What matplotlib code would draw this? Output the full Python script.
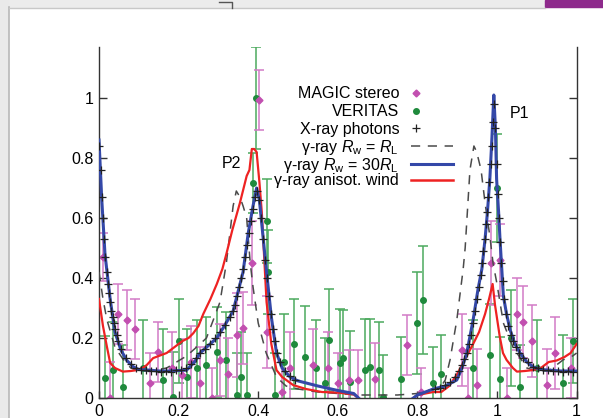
import numpy as np
import matplotlib
matplotlib.use("Agg")
import matplotlib.pyplot as plt
from matplotlib.lines import Line2D
from matplotlib.patches import Rectangle

plt.rcParams['font.family'] = ['Liberation Sans', 'DejaVu Sans']
plt.rcParams['mathtext.fontset'] = 'custom'
plt.rcParams['mathtext.rm'] = 'Liberation Sans'
plt.rcParams['mathtext.it'] = 'Liberation Sans:italic'
plt.rcParams['font.size'] = 11.5

# gamma-ray model, R_w = 30 R_L (blue)
blue_phase = [0, 0.007, 0.015, 0.028, 0.04, 0.055, 0.07, 0.086, 0.1, 0.127, 0.15, 0.18,
              0.22, 0.24, 0.254, 0.275, 0.296, 0.315, 0.337, 0.362, 0.375, 0.387, 0.396,
              0.403, 0.409, 0.415, 0.421, 0.433, 0.446, 0.46, 0.48, 0.5, 0.55, 0.6, 0.64,
              0.66, 0.78, 0.8, 0.84, 0.87, 0.899, 0.912, 0.924, 0.94, 0.952, 0.962, 0.97,
              0.976, 0.982, 0.987, 0.992, 0.996, 0.999, 1.004, 1.0075, 1.012, 1.016, 1.024,
              1.033, 1.045, 1.058, 1.075, 1.09, 1.11, 1.13, 1.16, 1.19, 1.2]
blue_rate = [0.86, 0.66, 0.48, 0.33, 0.22, 0.16, 0.125, 0.104, 0.095, 0.093, 0.09, 0.09,
             0.093, 0.12, 0.15, 0.175, 0.2, 0.24, 0.29, 0.42, 0.55, 0.64, 0.70,
             0.66, 0.58, 0.5, 0.42, 0.27, 0.15, 0.1, 0.07, 0.057, 0.04, 0.025, 0.015,
             -0.01, -0.01, 0.01, 0.03, 0.04, 0.06, 0.1, 0.15, 0.26, 0.36, 0.43, 0.53,
             0.62, 0.73, 0.86, 1.01, 0.9, 0.73, 0.62, 0.53, 0.43, 0.34, 0.28,
             0.227, 0.18, 0.15, 0.12, 0.104, 0.095, 0.093, 0.09, 0.09, 0.09]

# gamma-ray model, anisotropic wind (red)
red_phase = [0, 0.01, 0.02, 0.028, 0.04, 0.06, 0.08, 0.095, 0.11, 0.12, 0.136, 0.15, 0.17,
             0.19, 0.21, 0.225, 0.237, 0.25, 0.262, 0.28, 0.296, 0.31, 0.32, 0.335, 0.354,
             0.371, 0.378, 0.384, 0.39, 0.396, 0.403, 0.409, 0.417, 0.421, 0.433, 0.446,
             0.46, 0.488, 0.52, 0.56, 0.6, 0.64, 0.66, 0.78, 0.8, 0.82, 0.84, 0.86, 0.88,
             0.9, 0.92, 0.94, 0.955, 0.97, 0.98, 0.989, 0.995, 1.007, 1.015, 1.024, 1.04,
             1.05, 1.07, 1.09, 1.11, 1.13, 1.15, 1.17, 1.185, 1.2]
red_rate = [0.33, 0.24, 0.17, 0.117, 0.1, 0.088, 0.09, 0.093, 0.1, 0.11, 0.133, 0.14, 0.15,
            0.17, 0.19, 0.2, 0.216, 0.24, 0.28, 0.33, 0.38, 0.43, 0.48, 0.56, 0.65,
            0.74, 0.76, 0.83, 0.83, 0.82, 0.72, 0.62, 0.42, 0.32, 0.18, 0.093,
            0.07, 0.043, 0.03, 0.02, 0.018, 0.012, -0.01, -0.01, 0.01, 0.015, 0.02, 0.02, 0.04,
            0.08, 0.13, 0.18, 0.22, 0.28, 0.33, 0.38, 0.31, 0.204, 0.15, 0.127, 0.1,
            0.088, 0.09, 0.093, 0.1, 0.12, 0.125, 0.137, 0.15, 0.18]

# gamma-ray model, R_w = R_L (dashed)
dash_phase = [0, 0.01, 0.02, 0.04, 0.06, 0.08, 0.1, 0.13, 0.17, 0.22, 0.254, 0.27, 0.29,
              0.304, 0.32, 0.337, 0.345, 0.354, 0.362, 0.371, 0.38, 0.387, 0.4, 0.42, 0.446,
              0.47, 0.5, 0.55, 0.6, 0.65, 0.7, 0.75, 0.8, 0.84, 0.86, 0.87, 0.882, 0.899,
              0.915, 0.92, 0.932, 0.942, 0.949, 0.96, 0.97, 0.982, 0.99, 1.0, 1.016, 1.04,
              1.075, 1.1, 1.13, 1.166, 1.19, 1.2]
dash_rate = [0.42, 0.33, 0.26, 0.17, 0.13, 0.1, 0.09, 0.09, 0.1, 0.14, 0.18, 0.2, 0.27,
             0.32, 0.45, 0.64, 0.69, 0.67, 0.64, 0.6, 0.45, 0.37, 0.25, 0.15, 0.07,
             0.04, 0.03, 0.02, 0.015, 0.01, 0.01, 0.01, 0.015, 0.03, 0.04, 0.06, 0.127, 0.26,
             0.43, 0.5, 0.76, 0.84, 0.82, 0.76, 0.65, 0.54, 0.45, 0.38, 0.25, 0.17,
             0.1, 0.09, 0.09, 0.127, 0.14, 0.15]

# X-ray photons
xray_phase = [0.001, 0.004, 0.007, 0.010, 0.013, 0.016, 0.019, 0.022, 0.025, 0.028, 0.031,
              0.034, 0.037, 0.040, 0.044, 0.048, 0.055, 0.0675, 0.08, 0.0925, 0.105, 0.1175,
              0.13, 0.1425, 0.155, 0.1675, 0.18, 0.1925, 0.205, 0.2175, 0.23, 0.2425, 0.255,
              0.2675, 0.28, 0.2925, 0.305, 0.3175, 0.33, 0.337, 0.342, 0.347, 0.352, 0.357,
              0.362, 0.367, 0.372, 0.377, 0.382, 0.387, 0.392, 0.397, 0.402, 0.407, 0.412,
              0.417, 0.422, 0.427, 0.432, 0.437, 0.442, 0.447, 0.455, 0.4675, 0.48, 0.4925,
              0.845, 0.8575, 0.87, 0.8825, 0.895, 0.905, 0.912, 0.918, 0.924, 0.93, 0.935,
              0.94, 0.945, 0.95, 0.955, 0.959, 0.963, 0.966, 0.969, 0.972, 0.975, 0.978,
              0.981, 0.984, 0.987, 0.99, 0.993, 0.996, 0.999, 1.002, 1.005, 1.008, 1.011,
              1.014, 1.018, 1.023, 1.028, 1.034, 1.04, 1.0475, 1.055, 1.065, 1.0775, 1.09,
              1.1025, 1.115, 1.1275, 1.14, 1.1525, 1.165, 1.1775, 1.19]
xray_rate = [0.84, 0.76, 0.67, 0.60, 0.53, 0.47, 0.42, 0.38, 0.35, 0.32, 0.29,
             0.27, 0.25, 0.23, 0.21, 0.19, 0.165, 0.135, 0.115, 0.1, 0.095, 0.092,
             0.09, 0.09, 0.088, 0.09, 0.088, 0.092, 0.095, 0.1, 0.115, 0.135, 0.15,
             0.165, 0.18, 0.2, 0.22, 0.245, 0.27, 0.29, 0.31, 0.34, 0.37, 0.4,
             0.43, 0.47, 0.51, 0.55, 0.59, 0.63, 0.67, 0.69, 0.66, 0.6, 0.53,
             0.46, 0.4, 0.34, 0.28, 0.23, 0.19, 0.15, 0.12, 0.09, 0.072, 0.06,
             0.03, 0.035, 0.045, 0.055, 0.07, 0.09, 0.11, 0.13, 0.15, 0.18, 0.21,
             0.25, 0.29, 0.33, 0.37, 0.41, 0.45, 0.49, 0.53, 0.58, 0.62, 0.67,
             0.72, 0.78, 0.84, 0.92, 0.98, 0.9, 0.78, 0.68, 0.6, 0.52, 0.45,
             0.39, 0.33, 0.28, 0.24, 0.21, 0.19, 0.17, 0.15, 0.135, 0.12, 0.105,
             0.1, 0.095, 0.092, 0.09, 0.09, 0.088, 0.09, 0.088]

# MAGIC stereo
magic_phase = [0.01, 0.028, 0.048, 0.07, 0.09, 0.128, 0.149, 0.183, 0.208, 0.23, 0.254,
               0.283, 0.304, 0.325, 0.346, 0.362, 0.384, 0.403, 0.421, 0.459, 0.48,
               0.538, 0.576, 0.6, 0.627, 0.651, 0.693, 0.773, 0.81, 0.911, 0.928, 0.949,
               0.986, 1.007, 1.024, 1.05, 1.066, 1.087, 1.125, 1.146, 1.186]
magic_rate = [0.47, 0.0, 0.28, 0.26, 0.23, 0.05, 0.155, 0.10, 0.077, 0.12, 0.05,
              0.0, 0.127, 0.08, 0.21, 0.233, 0.45, 0.995, 0.22, 0.02, 0.1,
              0.11, 0.099, 0.05, 0.06, 0.06, 0.065, 0.177, 0.02, 0.16, 0.0, 0.043,
              0.45, 0.46, 0.0, 0.28, 0.254, 0.19, 0.043, 0.151, 0.1]
magic_err = [0.08, 0.12, 0.1, 0.1, 0.1, 0.1, 0.1, 0.12, 0.12, 0.12, 0.12,
             0.1, 0.12, 0.12, 0.14, 0.12, 0.14, 0.1, 0.12, 0.1, 0.12,
             0.12, 0.12, 0.1, 0.1, 0.1, 0.12, 0.1, 0.08, 0.12, 0.1, 0.12,
             0.14, 0.12, 0.1, 0.12, 0.12, 0.12, 0.12, 0.12, 0.1]

# VERITAS
veritas_phase = [0.015, 0.036, 0.061, 0.11, 0.16, 0.187, 0.2, 0.22, 0.245, 0.27, 0.296,
                 0.32, 0.346, 0.358, 0.371, 0.388, 0.394, 0.421, 0.425, 0.442, 0.465, 0.49,
                 0.518, 0.545, 0.568, 0.579, 0.605, 0.614, 0.631, 0.668, 0.681, 0.703, 0.714,
                 0.76, 0.798, 0.815, 0.84, 0.86, 0.94, 0.982, 0.999, 1.008, 1.035, 1.058,
                 1.1, 1.165, 1.19]
veritas_rate = [0.067, 0.093, 0.038, 0.1, 0.06, 0.004, 0.19, 0.07, 0.1, 0.11, 0.155,
                0.127, 0.01, 0.07, 0.01, 0.716, 1.0, 0.59, 0.42, 0.01, 0.12, 0.18,
                0.138, 0.1, 0.05, 0.193, 0.117, 0.133, 0.054, 0.093, 0.104, 0.093, 0.004,
                0.065, 0.249, 0.327, 0.05, 0.08, 0.1, 0.143, 0.70, 0.065, 0.2, 0.038,
                0.1, 0.05, 0.19]
veritas_err = [0.14, 0.16, 0.14, 0.16, 0.17, 0.15, 0.14, 0.16, 0.16, 0.16, 0.15,
               0.16, 0.14, 0.15, 0.14, 0.1, 0.17, 0.14, 0.14, 0.14, 0.16, 0.15,
               0.17, 0.16, 0.15, 0.17, 0.18, 0.16, 0.17, 0.17, 0.16, 0.16, 0.14,
               0.14, 0.17, 0.18, 0.12, 0.13, 0.16, 0.17, 0.18, 0.14, 0.16, 0.14,
               0.16, 0.16, 0.14]

x_ticks = [0, 0.2, 0.4, 0.6, 0.8, 1.0, 1.2]
x_tick_labels = ['0', '0.2', '0.4', '0.6', '0.8', '1', '1']
y_ticks = [0, 0.2, 0.4, 0.6, 0.8, 1.0]
y_tick_labels = ['0', '0.2', '0.4', '0.6', '0.8', '1']

W, H = 603, 418
fig = plt.figure(figsize=(W / 100, H / 100), dpi=100)
fig.patch.set_facecolor('white')

# slide screenshot frame
fig.add_artist(Rectangle((0, 1 - 7 / H), 1, 7 / H, transform=fig.transFigure,
                         color='#ececec', zorder=0))
fig.add_artist(Rectangle((0, 0), 8 / W, 1, transform=fig.transFigure,
                         color='#eaeaea', zorder=0))
fig.add_artist(Rectangle((545 / W, 1 - 7 / H), 1, 7 / H, transform=fig.transFigure,
                         color='#8e2a8c', zorder=1))
fig.add_artist(Line2D([8.5 / W, 8.5 / W], [0, 1 - 7 / H], transform=fig.transFigure,
                      color='#b8b8b8', lw=1.2))
fig.add_artist(Line2D([8.5 / W, 545 / W], [1 - 7.5 / H, 1 - 7.5 / H],
                      transform=fig.transFigure, color='#c8c8c8', lw=1.0))
fig.add_artist(Line2D([219 / W, 232 / W, 232 / W], [1 - 2 / H, 1 - 2 / H, 1 - 8 / H],
                      transform=fig.transFigure, color='#555555', lw=1.0))

ax = fig.add_axes([99 / W, 20 / H, (576.6 - 99) / W, 351 / H])
ax.set_xlim(0, 1.2)
ax.set_ylim(0, 1.17)

ax.errorbar(veritas_phase, veritas_rate, yerr=veritas_err, fmt='o', ms=4,
            color='#1f8a3c', ecolor='#4caa5e', elinewidth=1.1, capsize=3.5,
            capthick=1.1, zorder=2)
ax.errorbar(magic_phase, magic_rate, yerr=magic_err, fmt='D', ms=3.5,
            color='#c24fb0', ecolor='#d27ac6', elinewidth=1.1, capsize=3.5,
            capthick=1.1, zorder=2)
ax.plot(dash_phase, dash_rate, color='#4a4a4a', lw=1.1, dashes=(6, 5), zorder=3)
ax.plot(red_phase, red_rate, color='#ee2222', lw=1.6, zorder=4)
ax.plot(blue_phase, blue_rate, color='#3448a8', lw=2.2, zorder=5)
ax.plot(xray_phase, xray_rate, '+', color='#222222', ms=5.5, mew=0.9, zorder=6)

ax.text(1.033, 0.95, 'P1', va='center', ha='left')
ax.text(0.308, 0.78, 'P2', va='center', ha='left')

for s in ['left', 'right', 'bottom']:
    ax.spines[s].set_color('#333333')
    ax.spines[s].set_linewidth(1.0)
ax.spines['top'].set_visible(False)
ax.set_xticks(x_ticks)
ax.set_xticklabels(x_tick_labels)
ax.set_yticks(y_ticks)
ax.set_yticklabels(y_tick_labels)
ax.tick_params(axis='y', direction='in', length=5.5, width=1.0, color='#333333',
               left=True, right=True, labelright=False, pad=4)
ax.tick_params(axis='x', direction='in', length=5.0, width=1.0, color='#333333',
               top=False, pad=4)

# legend: markers
h_magic = Line2D([], [], ls='none', marker='D', ms=3.5, color='#c24fb0')
h_ver = Line2D([], [], ls='none', marker='o', ms=4, color='#1f8a3c')
h_x = Line2D([], [], ls='none', marker='+', ms=5.5, mew=0.9, color='#222222')
leg1 = ax.legend([h_magic, h_ver, h_x], ['MAGIC stereo', 'VERITAS', 'X-ray photons'],
                 markerfirst=False, frameon=False, handlelength=1.0, handletextpad=0.55,
                 labelspacing=0.17, borderpad=0, borderaxespad=0, fontsize=11.5,
                 loc='upper right', bbox_to_anchor=(424 / W, 1 - 86.5 / H),
                 bbox_transform=fig.transFigure)
ax.add_artist(leg1)
h_d = Line2D([], [], color='#4a4a4a', lw=1.1, dashes=(6, 5))
h_b = Line2D([], [], color='#3448a8', lw=2.2)
h_r = Line2D([], [], color='#ee2222', lw=1.8)
ax.legend([h_d, h_b, h_r],
          [r'γ-ray $R_\mathrm{w}$ = $R_\mathrm{L}$', r'γ-ray $R_\mathrm{w}$ = 30$R_\mathrm{L}$',
           'γ-ray anisot. wind'],
          markerfirst=False, frameon=False, handlelength=2.65, handletextpad=0.75,
          labelspacing=-0.08, borderpad=0, borderaxespad=0, fontsize=11.5,
          loc='upper right', bbox_to_anchor=(453 / W, 1 - 138 / H),
          bbox_transform=fig.transFigure)

fig.savefig('out.png', dpi=100)
